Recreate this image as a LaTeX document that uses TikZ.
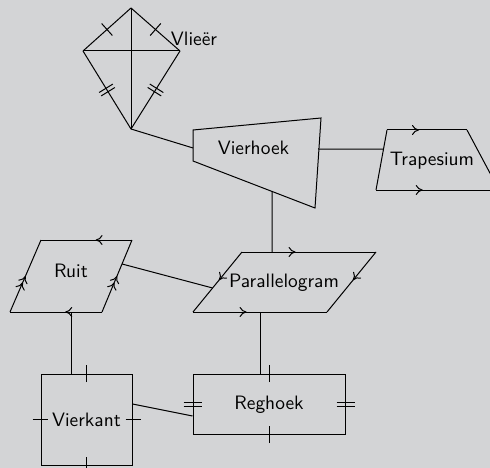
\documentclass[tikz,border=0pt]{standalone}
\usetikzlibrary{decorations.markings,calc,arrows.meta}
\definecolor{bg}{RGB}{211,212,214}
\begin{document}
\begin{tikzpicture}[x=1pt,y=-1pt,line width=1pt,
  lbl/.style={font=\sffamily\fontsize{10}{12}\selectfont, scale=1.94, anchor=base, inner sep=0pt},
  onetick/.style={postaction={decorate,decoration={markings,mark=at position 0.5 with {\draw (0pt,-8pt) -- (0pt,8pt);}}}},
  twotick/.style={postaction={decorate,decoration={markings,mark=at position 0.5 with {\draw (-2pt,-8pt) -- (-2pt,8pt) (2pt,-8pt) -- (2pt,8pt);}}}},
  arr/.style={postaction={decorate,decoration={markings,mark=at position #1 with {\arrow{To[length=7pt,width=10pt]}}}}},
  darr/.style={postaction={decorate,decoration={markings,mark=at position #1 with {\arrow{To[length=7pt,width=10pt] To[length=7pt,width=10pt]}}}}},
  boxnode/.style={draw, inner sep=0pt}
]
\useasboundingbox (0,0) rectangle (490,468);
\fill[bg] (0,0) rectangle (490,468);
\clip (0,0) rectangle (490,468);

% Kite
\coordinate (kt) at (131,8);
\coordinate (kl) at (83,51);
\coordinate (kr) at (180,51);
\coordinate (kb) at (131,129);
\draw[onetick] (kl) -- (kt);
\draw[onetick] (kt) -- (kr);
\draw[twotick] (kb) -- (kl);
\draw[twotick] (kr) -- (kb);
\draw (kt) -- (kb) (kl) -- (kr);
\node[lbl] (vl) at (194,46) {Vlieër};

% Vierhoek
\coordinate (va) at (193,130);
\coordinate (vb) at (321,118);
\coordinate (vc) at (315,208);
\coordinate (vd) at (193,161);
\draw (va) -- (vb) -- (vc) -- (vd) -- cycle;
\node[lbl] (vh) at (253.5,155) {Vierhoek};

% Trapesium
\coordinate (ta) at (387,130);
\coordinate (tb) at (467,130);
\coordinate (tc) at (499,190);
\coordinate (td) at (376,190);
\draw[arr=0.4] (ta) -- (tb);
\draw (tb) -- (tc);
\draw[arr=0.38] (td) -- (tc);
\draw (td) -- (ta);
\node[lbl] (tp) at (432,166) {Trapesium};

% Ruit
\coordinate (ra) at (41,240);
\coordinate (rb) at (132,240);
\coordinate (rc) at (102,312);
\coordinate (rd) at (10,312);
\draw[arr=0.4] (rb) -- (ra);
\draw[darr=0.5] (rd) -- (ra);
\draw[darr=0.5] (rc) -- (rb);
\draw[arr=0.4] (rc) -- (rd);
\node[lbl] (ru) at (71,277) {Ruit};

% Parallelogram
\coordinate (pa) at (242,252);
\coordinate (pb) at (376,252);
\coordinate (pc) at (327,312);
\coordinate (pd) at (193,312);
\draw[arr=0.4] (pa) -- (pb);
\draw[arr=0.47] (pb) -- (pc);
\draw[arr=0.4] (pd) -- (pc);
\draw[arr=0.47] (pa) -- (pd);
\node[lbl] (pl) at (284,287) {Parallelogram};

% Vierkant
\node[boxnode, minimum width=91pt, minimum height=91pt] (vk) at (86.5,419.5) {};
\node[lbl] (vkt) at (86.5,426) {Vierkant};
\draw ([yshift=-8.5pt]vk.north) -- ([yshift=8.5pt]vk.north);
\draw ([yshift=-8.5pt]vk.south) -- ([yshift=8.5pt]vk.south);
\draw ([xshift=-8pt]vk.west) -- ([xshift=7pt]vk.west);
\draw ([xshift=-7pt]vk.east) -- ([xshift=8pt]vk.east);

% Reghoek
\node[boxnode, minimum width=152pt, minimum height=60pt] (rh) at (269,404) {};
\node[lbl] (rht) at (269,409) {Reghoek};
\draw ([yshift=-8.5pt]rh.north) -- ([yshift=8.5pt]rh.north);
\draw ([yshift=-8.5pt]rh.south) -- ([yshift=8.5pt]rh.south);
\draw ([xshift=-9pt,yshift=2pt]rh.west) -- ([xshift=9pt,yshift=2pt]rh.west)
      ([xshift=-9pt,yshift=-2pt]rh.west) -- ([xshift=9pt,yshift=-2pt]rh.west);
\draw ([xshift=-9pt,yshift=2pt]rh.east) -- ([xshift=9pt,yshift=2pt]rh.east)
      ([xshift=-9pt,yshift=-2pt]rh.east) -- ([xshift=9pt,yshift=-2pt]rh.east);

% Connectors
\coordinate (vhL) at ($(va)!0.58!(vd)$);
\coordinate (vhR) at (318,149);
\coordinate (tpL) at ($(ta)!0.317!(td)$);
\coordinate (vhB) at ($(vd)!0.648!(vc)$);
\coordinate (paT) at (272,252);
\coordinate (ruR) at ($(rc)!0.667!(rb)$);
\coordinate (paL) at ($(pa)!0.6!(pd)$);
\coordinate (ruB) at (71,312);
\coordinate (paB) at (260,312);
\draw (kb) -- (vhL);
\draw (vhR) -- (tpL);
\draw (vhB) -- (paT);
\draw (ruR) -- (paL);
\draw (ruB) -- ([xshift=-15.5pt]vk.north);
\draw (paB) -- ([xshift=-9pt]rh.north);
\draw ([yshift=15.5pt]vk.east) -- ([yshift=-12pt]rh.west);
\end{tikzpicture}
\end{document}
